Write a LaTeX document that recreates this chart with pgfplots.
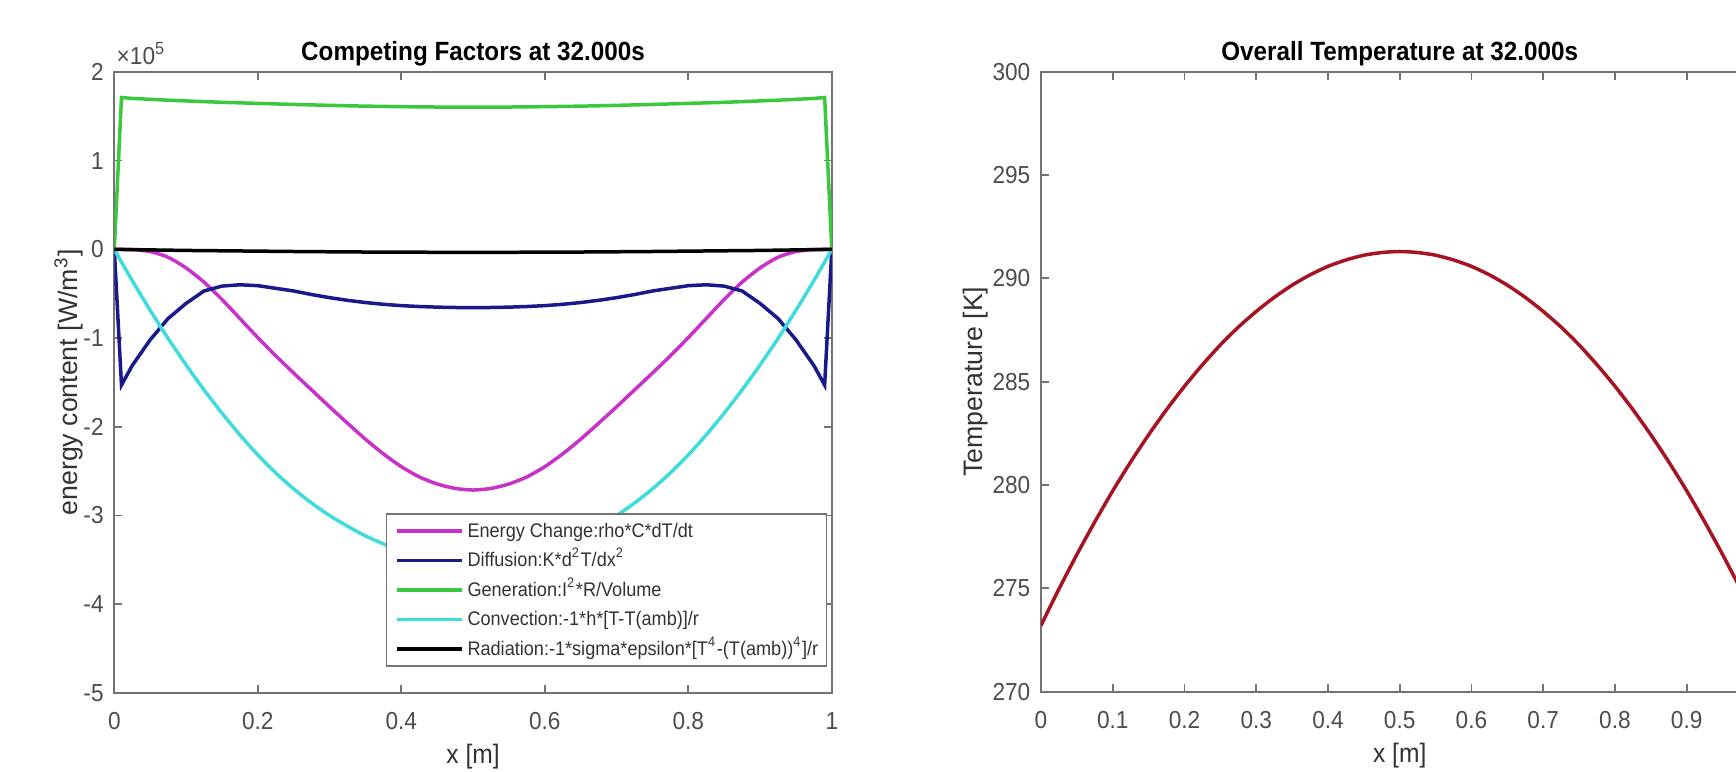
\documentclass[border=0pt]{standalone}
\usepackage{fontspec}
\setmainfont{Liberation Sans}[FakeStretch=0.92]
\newfontfamily\ylabfont{Liberation Sans}
\usepackage{pgfplots}
\usepackage{pgfplotstable}
\pgfplotsset{compat=1.18}

\definecolor{cEnergy}{RGB}{200,50,200}
\definecolor{cDiff}{RGB}{25,25,140}
\definecolor{cGen}{RGB}{60,200,60}
\definecolor{cConv}{RGB}{64,220,220}
\definecolor{cTemp}{RGB}{165,20,35}

% energy terms in units of 1e5 W/m^3, temperature in K
\pgfplotstableread{
x     E       D       G      C       R       T
0     0       0       0      0       0       273.20
0.01  0       -1.53   1.710  -0.143  -0.002  273.92
0.025 -0.003  -1.31   1.700  -0.353  -0.004  274.97
0.05  -0.025  -1.02   1.690  -0.688  -0.007  276.64
0.075 -0.09   -0.78   1.680  -1.005  -0.010  278.22
0.1   -0.21   -0.61   1.672  -1.303  -0.013  279.72
0.125 -0.37   -0.47   1.664  -1.584  -0.015  281.12
0.15  -0.565  -0.415  1.656  -1.846  -0.017  282.43
0.175 -0.78   -0.40   1.650  -2.091  -0.019  283.65
0.2   -0.995  -0.41   1.644  -2.317  -0.021  284.78
0.225 -1.20   -0.44   1.638  -2.520  -0.023  285.82
0.25  -1.395  -0.47   1.632  -2.700  -0.025  286.78
0.275 -1.585  -0.51   1.627  -2.860  -0.027  287.64
0.3   -1.775  -0.545  1.622  -3.000  -0.028  288.40
0.325 -1.96   -0.575  1.617  -3.120  -0.029  289.08
0.35  -2.14   -0.60   1.613  -3.230  -0.031  289.67
0.375 -2.305  -0.62   1.610  -3.320  -0.032  290.17
0.4   -2.45   -0.635  1.607  -3.400  -0.033  290.58
0.425 -2.565  -0.645  1.605  -3.460  -0.033  290.89
0.45  -2.645  -0.652  1.603  -3.500  -0.034  291.12
0.475 -2.695  -0.656  1.602  -3.525  -0.034  291.25
0.5   -2.713  -0.657  1.602  -3.530  -0.035  291.30
0.525 -2.695  -0.656  1.602  -3.525  -0.034  291.25
0.55  -2.645  -0.652  1.603  -3.500  -0.034  291.12
0.575 -2.565  -0.645  1.605  -3.460  -0.033  290.89
0.6   -2.45   -0.635  1.607  -3.400  -0.033  290.58
0.625 -2.305  -0.62   1.610  -3.320  -0.032  290.17
0.65  -2.14   -0.60   1.613  -3.230  -0.031  289.67
0.675 -1.96   -0.575  1.617  -3.120  -0.029  289.08
0.7   -1.775  -0.545  1.622  -3.000  -0.028  288.40
0.725 -1.585  -0.51   1.627  -2.860  -0.027  287.64
0.75  -1.395  -0.47   1.632  -2.700  -0.025  286.78
0.775 -1.20   -0.44   1.638  -2.520  -0.023  285.82
0.8   -0.995  -0.41   1.644  -2.317  -0.021  284.78
0.825 -0.78   -0.40   1.650  -2.091  -0.019  283.65
0.85  -0.565  -0.415  1.656  -1.846  -0.017  282.43
0.875 -0.37   -0.47   1.664  -1.584  -0.015  281.12
0.9   -0.21   -0.61   1.672  -1.303  -0.013  279.72
0.925 -0.09   -0.78   1.680  -1.005  -0.010  278.22
0.95  -0.025  -1.02   1.690  -0.688  -0.007  276.64
0.975 -0.003  -1.31   1.700  -0.353  -0.004  274.97
0.99  0       -1.53   1.710  -0.143  -0.002  273.92
1     0       0       0      0       0       273.20
}\profile

\pgfplotsset{
  matlab/.style={
    scale only axis,
    anchor=south west,
    axis line style={black!55, line width=0.5pt},
    every tick/.style={black!55, line width=0.5pt},
    major tick length=0.08cm,
    tick align=inside,
    /pgf/number format/assume math mode=true,
    tick label style={font=\fontsize{7}{8}\selectfont, text=black!70, inner sep=0pt},
    xticklabel style={yshift=-0.19cm},
    yticklabel style={xshift=-0.1cm},
    every axis title/.style={at={(0.5,1)}, anchor=base, yshift=0.11cm, inner sep=0pt,
      font=\fontsize{7.5}{9}\selectfont\bfseries},
    every axis x label/.style={at={(0.5,-0.103)}, anchor=center,
      font=\fontsize{7.6}{9}\selectfont, text=black!80},
    xmin=0, xmax=1,
  },
  ylab/.style={every axis y label/.style={at={(#1,0.5)}, rotate=90, anchor=center,
      font=\ylabfont\fontsize{7.6}{9}\selectfont, text=black!80}},
  curve/.style={line width=0.035cm, #1},
}

\begin{document}
\begin{tikzpicture}
\path[use as bounding box] (0,0) rectangle (17.36,7.72);
\clip (0,0) rectangle (17.36,7.72);

\begin{axis}[
    matlab,
    at={(1.143cm,0.79cm)},
    width=7.175cm, height=6.212cm,
    ymin=-5, ymax=2,
    xtick={0,0.2,0.4,0.6,0.8,1},
    ytick={-5,-4,-3,-2,-1,0,1,2},
    title={Competing Factors at 32.000s},
    xlabel={x [m]},
    ylabel={energy content [W/m\textsuperscript{3}]},
    ylab=-0.0637,
    legend cell align=left,
    legend image code/.code={\draw[#1] (0cm,0cm) -- (0.65cm,0cm);},
    legend style={
        at={(0.3787,0.0423)}, anchor=south west,
        draw=black!55, line width=0.4pt, fill=white,
        font=\fontsize{5.6}{6.5}\selectfont, text=black!80,
        inner xsep=2.4pt, inner ysep=1.6pt,
        row sep=1.9pt, column sep=1.1pt,
        nodes={inner sep=0pt, text height=5pt, text depth=1.5pt}
    }
]
\addplot[curve=cEnergy, smooth, tension=0.4] table[x=x, y=E] {\profile};
\addlegendentry{Energy Change:rho*C*dT/dt}
\addplot[curve=cDiff] table[x=x, y=D] {\profile};
\addlegendentry{Diffusion:K*d\textsuperscript{2}T/dx\textsuperscript{2}}
\addplot[curve=cGen] table[x=x, y=G] {\profile};
\addlegendentry{Generation:I\textsuperscript{2}*R/Volume}
\addplot[curve=cConv, smooth, tension=0.4] table[x=x, y=C] {\profile};
\addlegendentry{Convection:-1*h*[T-T(amb)]/r}
\addplot[curve=black, smooth, tension=0.4] table[x=x, y=R] {\profile};
\addlegendentry{Radiation:-1*sigma*epsilon*[T\textsuperscript{4}-(T(amb))\textsuperscript{4}]/r}
\end{axis}

\node[anchor=base west, inner sep=0pt, text=black!70, font=\fontsize{7}{8}\selectfont]
  at (1.16,7.07) {×10\textsuperscript{5}};

\begin{axis}[
    matlab,
    at={(10.41cm,0.803cm)},
    width=7.174cm, height=6.2cm,
    ymin=270, ymax=300,
    xtick={0,0.1,0.2,0.3,0.4,0.5,0.6,0.7,0.8,0.9},
    ytick={270,275,280,285,290,295,300},
    title={Overall Temperature at 32.000s},
    xlabel={x [m]},
    ylabel={Temperature [K]},
    ylab=-0.091,
]
\addplot[curve=cTemp, smooth, tension=0.4] table[x=x, y=T] {\profile};
\end{axis}
\end{tikzpicture}
\end{document}
